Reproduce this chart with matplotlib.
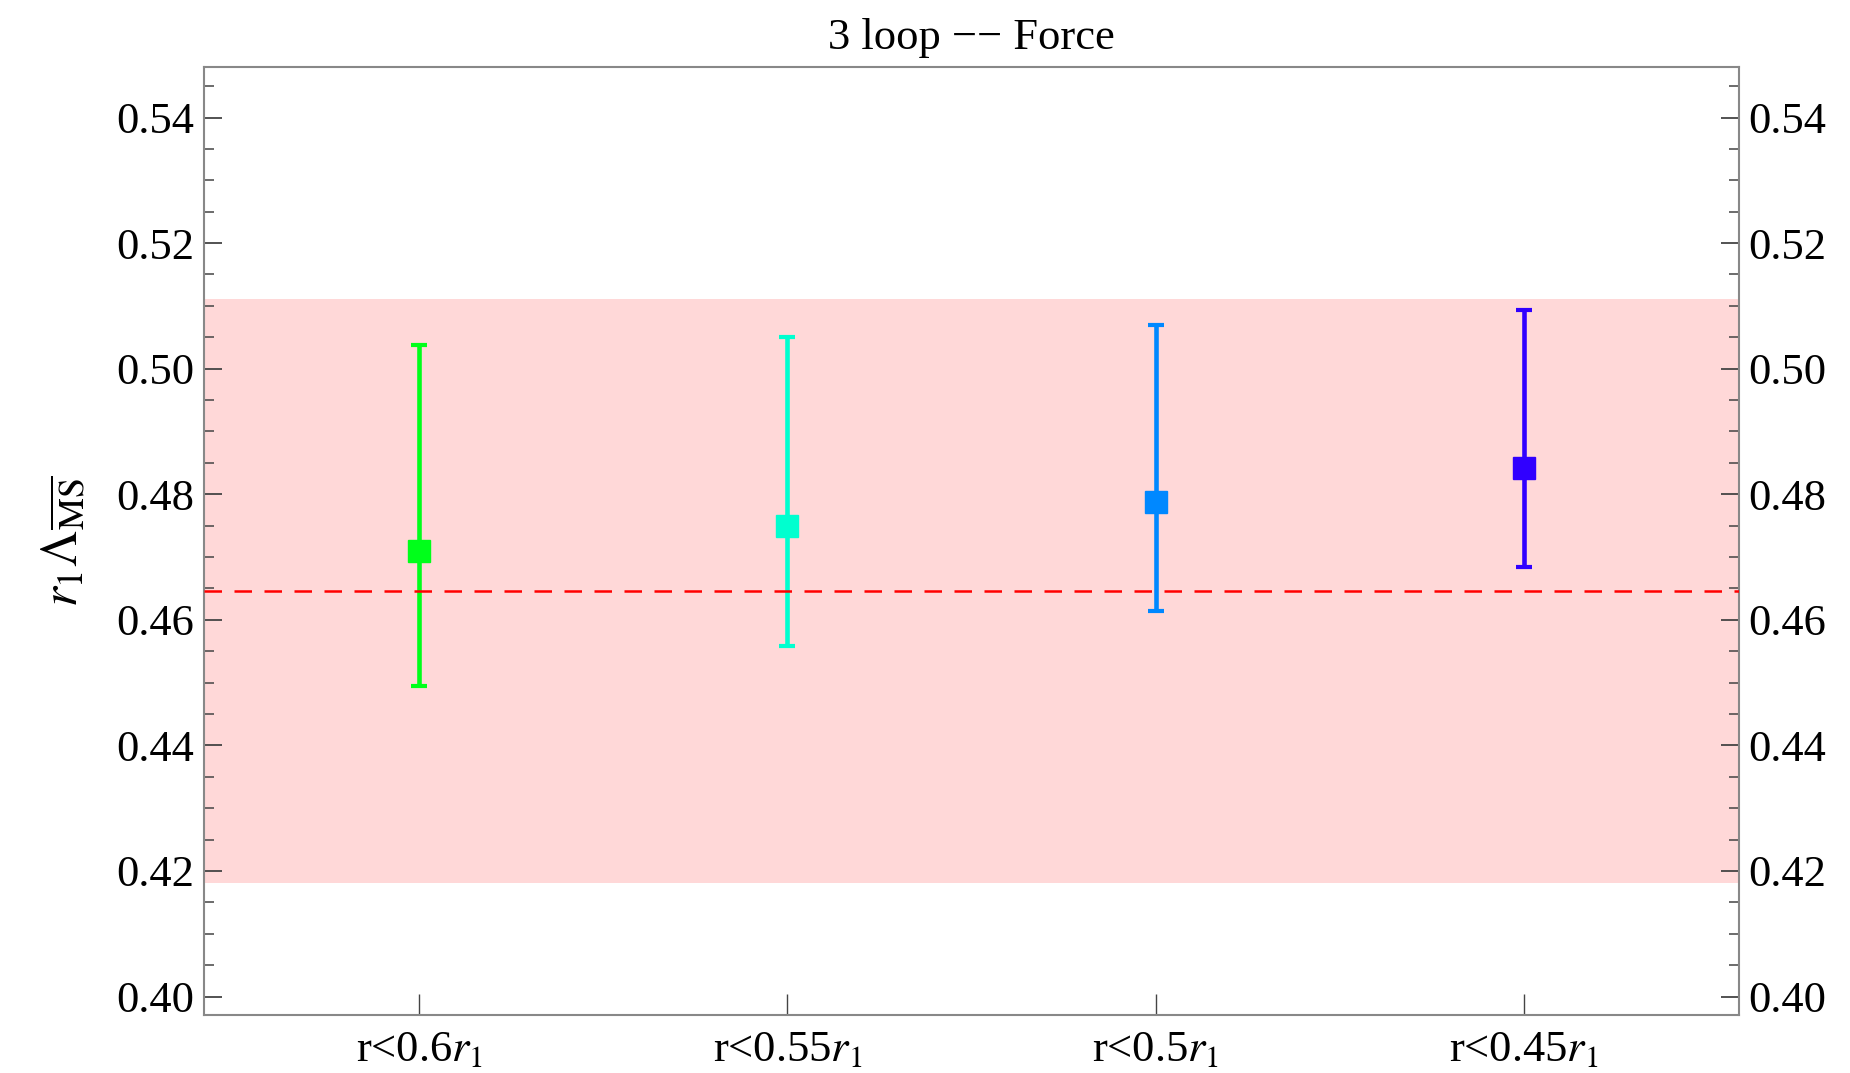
"""
r1 * Lambda_MS-bar for different fit ranges (3 loop, force)
"""
import matplotlib
matplotlib.use('Agg')
import matplotlib.pyplot as plt
from matplotlib.ticker import MultipleLocator
import numpy as np

# fit ranges and results
fit_ranges = [r'r<0.6$r_1$', r'r<0.55$r_1$', r'r<0.5$r_1$', r'r<0.45$r_1$']
central = [0.4709, 0.4750, 0.4788, 0.4841]
err_low = [0.4494, 0.4559, 0.4614, 0.4684]
err_high = [0.5038, 0.5051, 0.5069, 0.5094]
point_colors = ['#00ff1a', '#00ffcf', '#0088ff', '#3000ff']

# combined result: band and central value
band_low, band_high = 0.4181, 0.5111
ref_value = 0.4646

plt.rcParams['font.family'] = ['Liberation Serif', 'DejaVu Serif']
plt.rcParams['mathtext.fontset'] = 'stix'

fig = plt.figure(figsize=(18.5, 10.73), dpi=100)
ax = fig.add_axes([0.1103, 0.0543, 0.8297, 0.883])

x = np.arange(1, len(fit_ranges) + 1)
ax.axhspan(band_low, band_high, color='#ffd8d8', lw=0, zorder=0)

for xi, c, lo, hi, col in zip(x, central, err_low, err_high, point_colors):
    ax.errorbar([xi], [c], yerr=[[c - lo], [hi - c]], fmt='s', color=col,
                ms=16.5, lw=3.3, capsize=5.5, capthick=3, zorder=2)

ax.axhline(ref_value, color='#ff0000', lw=1.8, dashes=(7, 5), zorder=3)

ax.set_xlim(0.416, 4.584)
ax.set_ylim(0.3971, 0.548)
ax.set_xticks(x)
ax.set_xticklabels(fit_ranges)
ax.set_yticks([0.40, 0.42, 0.44, 0.46, 0.48, 0.50, 0.52, 0.54])
ax.set_yticklabels(['0.40', '0.42', '0.44', '0.46', '0.48', '0.50', '0.52', '0.54'])
ax.yaxis.set_minor_locator(MultipleLocator(0.005))

ax.tick_params(axis='both', which='both', direction='in', color='#444444',
               labelsize=32)
ax.tick_params(axis='y', which='major', length=13, width=1.3,
               left=True, right=True, labelleft=True, labelright=True, pad=7)
ax.tick_params(axis='y', which='minor', length=7, width=1.1,
               left=True, right=True)
ax.tick_params(axis='x', which='major', length=15, width=1.0, top=False, pad=11)

for sp in ax.spines.values():
    sp.set_color('#888888')
    sp.set_linewidth(1.5)

ax.set_ylabel(r'$r_1\Lambda_{\overline{\mathrm{MS}}}$', fontsize=37, labelpad=20)
ax.set_title('3 loop \u2212\u2212 Force', fontsize=32, pad=13)

plt.savefig('out.png', dpi=100)
plt.close()
